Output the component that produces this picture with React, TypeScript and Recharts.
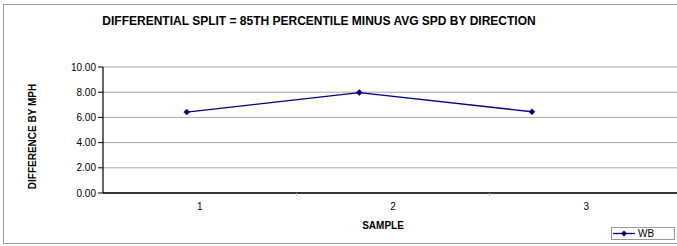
import React from "react";
import { LineChart, Line, XAxis, YAxis, CartesianGrid } from "recharts";

const samples = [1, 2, 3];
const wbValues = [6.42, 7.97, 6.45];
const yTicks = [0, 2, 4, 6, 8, 10];
const xTicks = [1, 1.5, 2, 2.5, 3];
const titleText = "DIFFERENTIAL SPLIT = 85TH PERCENTILE MINUS AVG SPD BY DIRECTION";
const yTitle = "DIFFERENCE BY MPH";
const xTitle = "SAMPLE";
const seriesName = "WB";

const data = samples.map((s, i) => ({ sample: s, wb: wbValues[i] }));

const FONT = "'Liberation Sans', Arial, sans-serif";
const NAVY = "#000080";

const Diamond = (props: any) => {
  const { cx, cy } = props;
  if (cx == null || cy == null) return null;
  const r = 3;
  return (
    <polygon
      points={`${cx},${cy - r} ${cx + r},${cy} ${cx},${cy + r} ${cx - r},${cy}`}
      fill={NAVY}
      stroke={NAVY}
      strokeWidth={0.5}
    />
  );
};

const XTick = (props: any) => {
  const { x, y, payload } = props;
  const v = payload.value;
  if (Math.round(v) !== v) {
    return <line x1={x} x2={x} y1={y - 8} y2={y - 5} stroke="#bbb" strokeWidth={1} />;
  }
  return (
    <text x={x} y={y + 9} textAnchor="middle" fontSize={10} fontFamily={FONT} fill="#000">
      {v}
    </text>
  );
};

const LegendBox = () => (
  <div
    style={{
      position: "absolute",
      left: 611,
      top: 227,
      width: 64,
      height: 13,
      boxSizing: "border-box",
      border: "1px solid #999",
      background: "#fff",
      display: "flex",
      alignItems: "center",
      fontFamily: FONT,
      fontSize: 10,
      color: "#000",
    }}
  >
    <svg width={26} height={11} style={{ display: "block" }}>
      <line x1={1} x2={23} y1={5.5} y2={5.5} stroke={NAVY} strokeWidth={1.3} />
      <polygon points="12,2.5 15,5.5 12,8.5 9,5.5" fill={NAVY} />
    </svg>
    <span style={{ lineHeight: "11px" }}>{seriesName}</span>
  </div>
);

export default function App() {
  return (
    <div
      style={{
        position: "absolute",
        left: 0,
        top: 0,
        width: 677,
        height: 246,
        overflow: "hidden",
        background: "#fff",
      }}
    >
      <div
        style={{
          position: "absolute",
          left: 3,
          top: 4,
          width: 700,
          height: 240,
          border: "1px solid #999",
          boxSizing: "border-box",
        }}
      />
      <div style={{ position: "absolute", left: 0, top: 0 }}>
        <LineChart
          width={700}
          height={246}
          data={data}
          margin={{ top: 67, right: 17, bottom: 33, left: 0 }}
        >
          <CartesianGrid vertical={false} stroke="#a6a6a6" strokeWidth={1} />
          <YAxis
            type="number"
            domain={[0, 10]}
            ticks={yTicks}
            width={103}
            tickFormatter={(v: number) => v.toFixed(2)}
            tick={{ fontSize: 10, fontFamily: FONT, fill: "#000" }}
            axisLine={{ stroke: "#000", strokeWidth: 1.2 }}
            tickLine={{ stroke: "#000" }}
            tickSize={5}
            interval={0}
          />
          <XAxis
            xAxisId="cat"
            type="number"
            dataKey="sample"
            domain={[0.5, 3.5]}
            ticks={xTicks}
            interval={0}
            height={20}
            tickLine={false}
            tick={<XTick />}
            axisLine={{ stroke: "#000", strokeWidth: 1.5 }}
          />
          <XAxis
            xAxisId="line"
            type="number"
            dataKey="sample"
            domain={[0.515, 3.875]}
            hide
          />
          <Line
            xAxisId="line"
            type="linear"
            dataKey="wb"
            name={seriesName}
            stroke={NAVY}
            strokeWidth={1.3}
            dot={<Diamond />}
            activeDot={false}
            isAnimationActive={false}
          />
        </LineChart>
      </div>
      <LegendBox />
      <svg
        width={677}
        height={246}
        style={{ position: "absolute", left: 0, top: 0, pointerEvents: "none" }}
      >
        <text x={319} y={25} textAnchor="middle" fontSize={12} fontWeight="bold" fontFamily={FONT} fill="#000">
          {titleText}
        </text>
        <text x={383} y={229} textAnchor="middle" fontSize={10} fontWeight="bold" fontFamily={FONT} fill="#000">
          {xTitle}
        </text>
        <text
          x={0}
          y={0}
          transform="translate(35.5,136.5) rotate(-90)"
          textAnchor="middle"
          fontSize={10}
          fontWeight="bold"
          fontFamily={FONT}
          fill="#000"
        >
          {yTitle}
        </text>
      </svg>
    </div>
  );
}
